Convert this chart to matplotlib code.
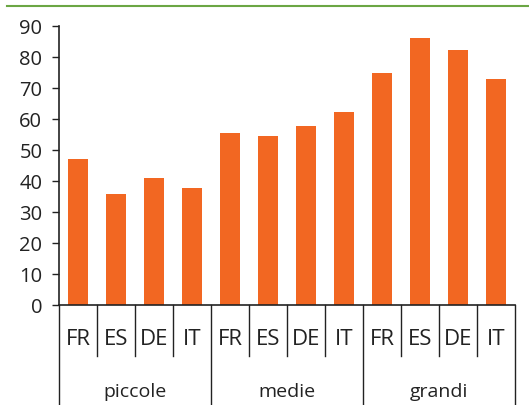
import matplotlib
matplotlib.use("Agg")
import matplotlib.pyplot as plt
from matplotlib.lines import Line2D

groups = ["piccole", "medie", "grandi"]
countries = ["FR", "ES", "DE", "IT"]
values = {
    "piccole": [47.2, 35.8, 41.0, 37.8],
    "medie": [55.4, 54.4, 57.7, 62.2],
    "grandi": [74.9, 86.0, 82.4, 73.0],
}
yticks = [0, 10, 20, 30, 40, 50, 60, 70, 80, 90]

plt.rcParams['font.family'] = ['Open Sans', 'DejaVu Sans']
W, H = 529, 406
fig = plt.figure(figsize=(W / 100, H / 100), dpi=100)
x0, x1, y0, y1 = 59, 515, 306, 27
ax = fig.add_axes([x0 / W, 1 - y0 / H, (x1 - x0) / W, (y0 - y1) / H])

bar_color = "#F26722"
line_color = "#222222"
text_color = "#222222"
n = len(groups) * len(countries)
xs, hs = [], []
for gi, g in enumerate(groups):
    for ci, c in enumerate(countries):
        xs.append(gi * len(countries) + ci + 0.5)
        hs.append(values[g][ci])
ax.bar(xs, hs, width=0.53, color=bar_color, zorder=2)

ax.set_xlim(0, n)
ax.set_ylim(0, 90)
ax.set_yticks(yticks)
ax.set_yticklabels([str(t) for t in yticks], fontsize=14.5, color=text_color)
ax.tick_params(axis="y", direction="out", length=5, width=1, color=line_color, pad=7)
ax.set_xticks([])
for s in ["top", "right"]:
    ax.spines[s].set_visible(False)
for s in ["left", "bottom"]:
    ax.spines[s].set_color(line_color)
    ax.spines[s].set_linewidth(1.2)

ah = y0 - y1
inner_y = -(357 - y0) / ah
outer_y = -(H - y0 + 2) / ah
trans = ax.get_xaxis_transform()
for i in range(n + 1):
    bottom = outer_y if i % len(countries) == 0 else inner_y
    ax.add_line(Line2D([i, i], [0, bottom], transform=trans, color=line_color,
                       lw=1, clip_on=False))
for i, x in enumerate(xs):
    ax.text(x, -(340 - y0) / ah, countries[i % len(countries)], transform=trans,
            ha="center", va="center", fontsize=16, color=text_color)
for gi, g in enumerate(groups):
    ax.text(gi * len(countries) + len(countries) / 2, -(392 - y0) / ah, g,
            transform=trans, ha="center", va="center", fontsize=14, color=text_color)

fig.add_artist(Line2D([7 / W, 1], [1 - 7 / H, 1 - 7 / H], transform=fig.transFigure,
                      color="#6BA644", lw=1.5))

fig.savefig("out.png", dpi=100)
